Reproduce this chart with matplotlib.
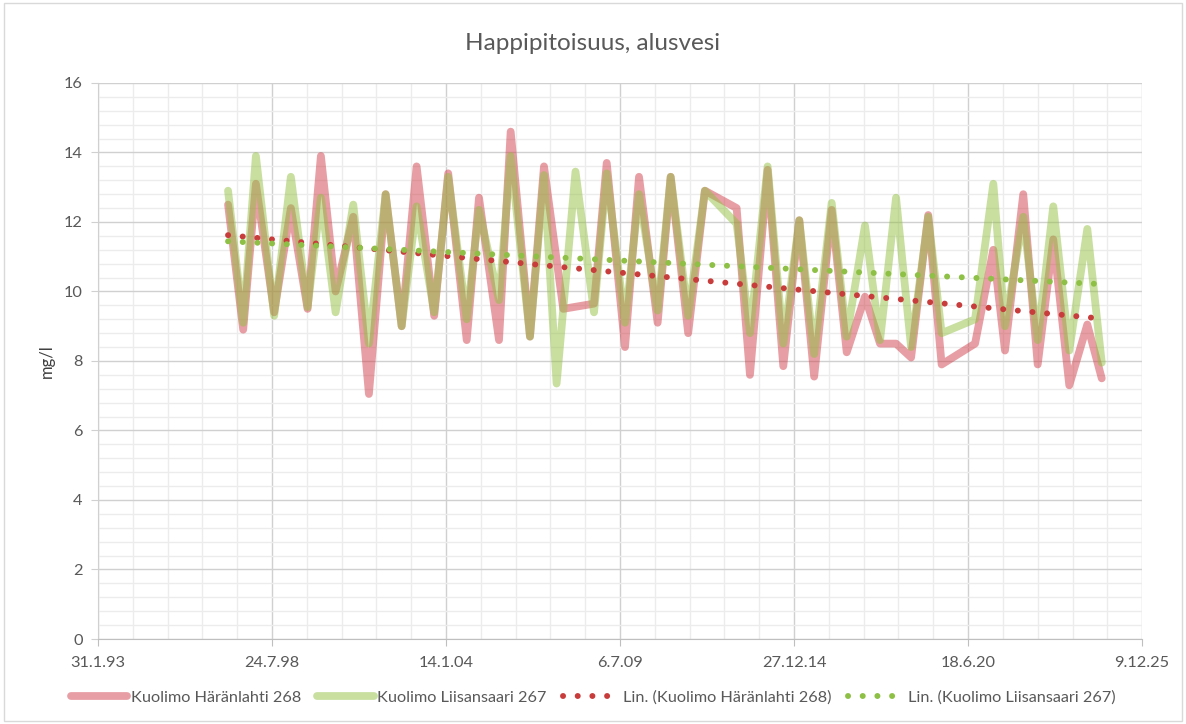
import datetime as dt

import matplotlib
matplotlib.use("Agg")
import matplotlib.dates as mdates
import numpy as np
from matplotlib import pyplot as plt
from matplotlib.patches import Rectangle

# sampling dates, shared by both stations (None = no sample at that station)
dates = [
    "1997-03-06", "1997-08-27", "1998-01-20", "1998-08-18", "1999-02-26",
    "1999-09-06", "2000-02-06", "2000-07-24", "2001-02-12", "2001-08-11",
    "2002-02-19", "2002-08-22", "2003-02-10", "2003-08-31", "2004-02-08",
    "2004-09-08", "2005-01-27", "2005-09-14", "2006-01-26", "2006-09-05",
    "2007-02-13", "2007-07-08", "2007-09-22", "2008-02-10", "2008-09-10",
    "2009-02-03", "2009-09-01", "2010-02-09", "2010-09-11", "2011-02-08",
    "2011-08-28", "2012-03-07", "2013-03-07", "2013-08-07", "2014-02-26",
    "2014-08-25", "2015-02-25", "2015-08-15", "2016-03-03", "2016-08-23",
    "2017-03-21", "2017-09-10", "2018-03-13", "2018-09-02", "2019-03-18",
    "2019-08-19", "2020-09-06", "2021-04-04", "2021-08-16", "2022-03-14",
    "2022-08-27", "2023-02-22", "2023-08-25", "2024-03-19", "2024-09-01",
]

haranlahti_268 = [
    12.5, 8.9, 13.1, 9.4, 12.4, 9.5, 13.9, 10.0, 12.15, 7.05,
    12.8, 9.0, 13.6, 9.3, 13.4, 8.6, 12.7, 8.6, 14.6, 8.7,
    13.6, None, 9.5, None, 9.65, 13.7, 8.4, 13.3, 9.1, 13.3,
    8.8, 12.9, 12.4, 7.6, 13.5, 7.85, 12.05, 7.55, 12.35, 8.25,
    9.85, 8.5, 8.5, 8.1, 12.2, 7.9, 8.5, 11.2, 8.3, 12.8,
    7.9, 11.5, 7.3, 9.05, 7.5,
]

liisansaari_267 = [
    12.9, 9.1, 13.9, 9.3, 13.3, 9.55, 12.7, 9.4, 12.5, 8.5,
    12.8, 9.0, 12.45, 9.4, 13.3, 9.2, 12.35, 9.75, 13.9, 8.7,
    13.35, 7.35, None, 13.45, 9.4, 13.4, 9.1, 12.8, 9.45, 13.3,
    9.3, 12.9, 11.95, 8.8, 13.6, 8.5, 12.05, 8.2, 12.55, 8.7,
    11.9, 8.6, 12.7, 8.4, 12.15, 8.8, 9.2, 13.1, 9.0, 12.15,
    8.6, 12.45, 8.3, 11.8, 7.95,
]

series_names = ["Kuolimo Häränlahti 268", "Kuolimo Liisansaari 267"]
x_ticks = ["1993-01-31", "1998-07-24", "2004-01-14", "2009-07-06",
           "2014-12-27", "2020-06-18", "2025-12-09"]

line_colors = ["#D13F4A", "#93C043"]
trend_colors = ["#C83C3C", "#8DC045"]
text_gray = "#595959"

plt.rcParams["font.family"] = ["Lato", "DejaVu Sans"]

fig = plt.figure(figsize=(11.86, 7.24), dpi=100)
ax = fig.add_axes([0.0826, 0.1174, 0.8804, 0.768])

x_all = mdates.datestr2num(dates)
data_lines, trend_lines = [], []
for values, name, lc, tc in zip([haranlahti_268, liisansaari_267], series_names,
                                line_colors, trend_colors):
    y = np.array([np.nan if v is None else v for v in values])
    ok = ~np.isnan(y)
    ln, = ax.plot(x_all[ok], y[ok], color=lc, alpha=0.5, lw=5.6,
                  solid_joinstyle="round", solid_capstyle="round",
                  label=name, zorder=3)
    data_lines.append(ln)
    coef = np.polyfit(x_all[ok], y[ok], 1)
    xt = np.array([x_all[ok][0], x_all[ok][-1]])
    tl, = ax.plot(xt, np.polyval(coef, xt), color=tc, lw=4.3,
                  linestyle=(0, (0.01, 2.45)), dash_capstyle="round",
                  label=f"Lin. ({name})", zorder=4)
    trend_lines.append(tl)

ticks = mdates.datestr2num(x_ticks)
ax.set_xlim(ticks[0], ticks[-1])
ax.set_xticks(ticks)
ax.set_xticks(np.arange(ticks[0], ticks[-1] + 1, 400), minor=True)
ax.set_xticklabels([f"{d.day}.{d.month}.{d.strftime('%y')}"
                    for d in (dt.date.fromisoformat(s) for s in x_ticks)])

ax.set_ylim(0, 16)
ax.set_yticks(np.arange(0, 17, 2))
ax.set_yticks(np.arange(0, 16.01, 0.4), minor=True)

ax.grid(which="major", color="#D0D0D0", lw=1.0, zorder=1)
ax.grid(which="minor", color="#ECECEC", lw=1.0, zorder=0)
ax.set_axisbelow(True)

for side in ["top", "right"]:
    ax.spines[side].set_visible(False)
ax.spines["left"].set_color("#D0D0D0")
ax.spines["bottom"].set_color("#BFBFBF")
ax.tick_params(axis="both", which="minor", length=0)
ax.tick_params(axis="x", which="major", length=5, color="#BFBFBF",
               labelsize=11.8, labelcolor=text_gray, pad=7)
ax.tick_params(axis="y", which="major", length=5, color="#D0D0D0",
               labelsize=11.8, labelcolor=text_gray, pad=6)

ax.set_ylabel("mg/l", fontsize=12, color="#404040")
ax.yaxis.set_label_coords(-0.041, 0.5)
fig.suptitle("Happipitoisuus, alusvesi", y=0.955, fontsize=17.5, color=text_gray)

fig.legend(handles=data_lines + trend_lines, loc="lower center",
           bbox_to_anchor=(0.5, 0.006), ncol=4, frameon=False, fontsize=11.7,
           labelcolor=text_gray, handlelength=3.5, columnspacing=1.0,
           handletextpad=0.2)

fig.add_artist(Rectangle((0.003, 0.004), 0.994, 0.992, transform=fig.transFigure,
                         fill=False, edgecolor="#D9D9D9", lw=1))

fig.savefig("out.png", dpi=100)
